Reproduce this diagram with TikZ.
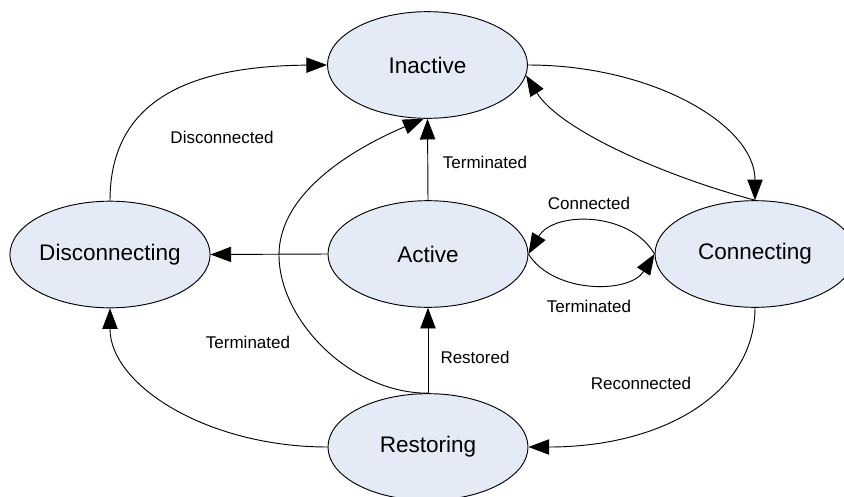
\documentclass[tikz,border=0pt]{standalone}
\usepackage{fontspec}
\setmainfont{Liberation Sans}
\usetikzlibrary{shapes.geometric,arrows.meta}
\definecolor{stateblue}{RGB}{228,235,247}
\begin{document}
\begin{tikzpicture}[x=0.75pt,y=0.75pt,yscale=-1,xscale=1,
  stateshape/.style={ellipse,draw,fill=stateblue,line width=0.7pt,inner sep=0pt,minimum width=150pt,minimum height=80pt,font=\fontsize{16.9}{20}\selectfont},
  edgelabel/.style={inner sep=0.75pt,font=\fontsize{12.75}{15}\selectfont},
  link/.style={line width=0.7pt,-{Triangle[length=15.5pt,width=11.5pt]}}]
\useasboundingbox (0,0) rectangle (844,497);

%Shape: Ellipse [id:inactive]
\node [stateshape] (inactive) at (427.5,65) {Inactive};
%Shape: Ellipse [id:disconnecting]
\node [stateshape] (disconnecting) at (110,254.5) {Disconnecting};
%Shape: Ellipse [id:active]
\node [stateshape] (active) at (428,254) {Active};
%Shape: Ellipse [id:connecting]
\node [stateshape] (connecting) at (755,254) {Connecting};
%Shape: Ellipse [id:restoring]
\node [stateshape] (restoring) at (428,447) {Restoring};

%Curve Lines [id:disconnected]
\draw [link] (disconnecting.north) .. controls +(0,-101) and +(-137,1) .. (inactive.west);
%Straight Lines [id:terminated1]
\draw [link] (active.north) -- (inactive.south);
%Curve Lines [id:terminated2]
\coordinate (bendleft) at (279,255);
\draw [link] (restoring.north) .. controls +(-78,0) and +(0,65) .. (bendleft) .. controls +(0,-65) and +(-64,27) .. (inactive.266);
%Straight Lines [id:toleft]
\draw [link] (active.west) -- (disconnecting.east);
%Straight Lines [id:restored]
\draw [link] (restoring.north) -- (active.south);
%Curve Lines [id:terminated3]
\draw [link] (restoring.west) .. controls +(-120,0) and +(0,77) .. (disconnecting.south);
%Curve Lines [id:toconnecting]
\draw [link] (inactive.east) .. controls +(125,0) and +(0,-75) .. (connecting.north);
%Curve Lines [id:back]
\draw [link] (connecting.north) .. controls +(-90,-24) and +(34,55) .. (inactive.-6);
%Curve Lines [id:connected]
\draw [link] (connecting.west) .. controls +(-25,-43) and +(25,-43) .. (active.east);
%Curve Lines [id:terminated4]
\draw [link] (active.east) .. controls +(25,40) and +(-25,40) .. (connecting.west);
%Curve Lines [id:reconnected]
\draw [link] (connecting.south) .. controls +(0,85) and +(135,0) .. (restoring.east);

% Text Node
\node [edgelabel] (lbldisconnected) at (222,137) {Disconnected};
% Text Node
\node [edgelabel] (lblterminatedtop) at (485,162) {Terminated};
% Text Node
\node [edgelabel] (lblconnected) at (589,203) {Connected};
% Text Node
\node [edgelabel] (lblterminatedright) at (589,306) {Terminated};
% Text Node
\node [edgelabel] (lblterminatedleft) at (248,342) {Terminated};
% Text Node
\node [edgelabel] (lblrestored) at (475,357) {Restored};
% Text Node
\node [edgelabel] (lblreconnected) at (641,383) {Reconnected};

\end{tikzpicture}
\end{document}
